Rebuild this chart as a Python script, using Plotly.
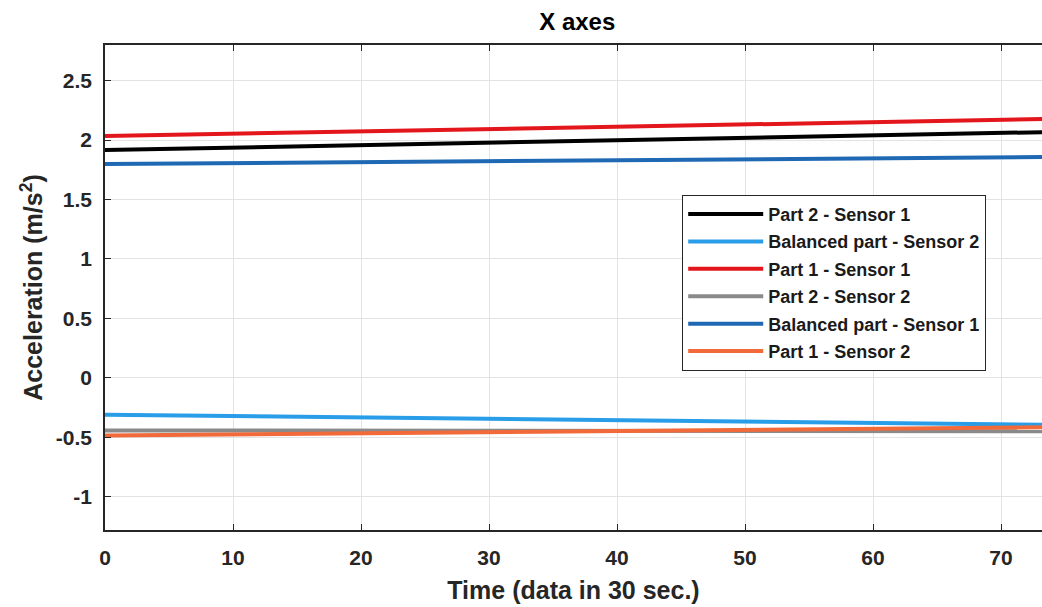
import plotly.graph_objects as go

# ---- data ----
time = [0, 10, 20, 30, 40, 50, 60, 70, 73.2]

part2_s1 = [1.916, 1.937, 1.958, 1.979, 2.000, 2.020, 2.040, 2.060, 2.067]
balanced_s2 = [-0.310, -0.322, -0.333, -0.344, -0.356, -0.367, -0.379, -0.390, -0.394]
part1_s1 = [2.034, 2.053, 2.073, 2.092, 2.112, 2.131, 2.151, 2.170, 2.177]
part2_s2 = [-0.442, -0.443, -0.444, -0.445, -0.446, -0.447, -0.448, -0.449, -0.450]
balanced_s1 = [1.798, 1.806, 1.814, 1.822, 1.830, 1.838, 1.846, 1.854, 1.857]
part1_s2 = [-0.485, -0.476, -0.466, -0.457, -0.447, -0.438, -0.428, -0.419, -0.416]

series_names = ["Part 2 - Sensor 1", "Balanced part - Sensor 2", "Part 1 - Sensor 1",
                "Part 2 - Sensor 2", "Balanced part - Sensor 1", "Part 1 - Sensor 2"]
series_values = [part2_s1, balanced_s2, part1_s1, part2_s2, balanced_s1, part1_s2]
series_colors = ["#000000", "#2a9de8", "#e3161c", "#8a8a8a", "#1f68b4", "#f26a3a"]

y_tickvals = [-1, -0.5, 0, 0.5, 1, 1.5, 2, 2.5]
y_ticktext = ["-1", "-0.5", "0", "0.5", "1", "1.5", "2", "2.5"]
x_tickvals = [0, 10, 20, 30, 40, 50, 60, 70]
x_ticktext = ["0", "10", "20", "30", "40", "50", "60", "70"]

FONT = "Liberation Sans, Arial, sans-serif"
AX = "#262626"

fig = go.Figure()
for i, (name, vals, col) in enumerate(zip(series_names, series_values, series_colors)):
    fig.add_trace(go.Scatter(
        x=time, y=vals, mode="lines", name=name,
        line=dict(color=col, width=4),
        legendgroup=f"g{i}",
    ))

fig.update_layout(
    width=1042, height=607,
    margin=dict(l=105, r=0, t=45, b=77),
    plot_bgcolor="white", paper_bgcolor="white",
    title=dict(text="<b>X axes</b>", x=0.554, xanchor="center", y=0.964, yanchor="middle",
               font=dict(family=FONT, size=24, color="black")),
    showlegend=True,
    legend=dict(
        x=0.616, y=0.691, xanchor="left", yanchor="top",
        bgcolor="white", bordercolor="#262626", borderwidth=1,
        font=dict(family=FONT, size=18, color="#1a1a1a", weight="bold"),
        tracegroupgap=1, itemwidth=75,
        entrywidth=325, entrywidthmode="pixels",
    ),
    xaxis=dict(
        range=[0, 73.2], tickvals=x_tickvals, ticktext=x_ticktext,
        showgrid=True, gridcolor="#e3e3e3", gridwidth=1, zeroline=False,
        showline=True, linecolor=AX, linewidth=1.5, mirror="ticks",
        ticks="inside", ticklen=6, tickcolor=AX, tickwidth=1.2,
        ticklabelstandoff=8,
        tickfont=dict(family=FONT, size=21, color=AX, weight="bold"),
        title=dict(text="<b>Time (data in 30 sec.)</b>", standoff=14,
                   font=dict(family=FONT, size=25, color=AX)),
    ),
    yaxis=dict(
        range=[-1.28, 2.8], tickvals=y_tickvals, ticktext=y_ticktext,
        showgrid=True, gridcolor="#e3e3e3", gridwidth=1, zeroline=False,
        showline=True, linecolor=AX, linewidth=1.5,
        ticks="inside", ticklen=6, tickcolor=AX, tickwidth=1.2,
        ticklabelstandoff=7,
        tickfont=dict(family=FONT, size=21, color=AX, weight="bold"),
        title=dict(text="<b>Acceleration (m/s<sup>2</sup>)</b>", standoff=6,
                   font=dict(family=FONT, size=25, color=AX)),
    ),
)

fig.write_html("out.html")
